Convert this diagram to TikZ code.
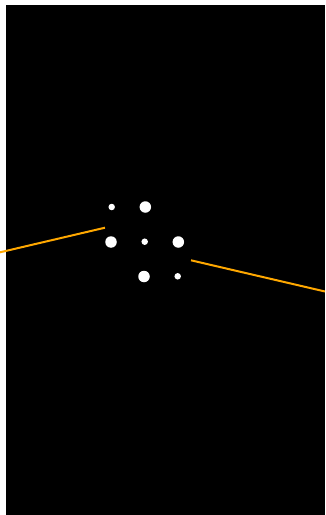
\documentclass[tikz,border=0pt]{standalone}
\usepackage{xcolor}
\definecolor{ray}{HTML}{FFA800}
\begin{document}
\begin{tikzpicture}[x=1bp,y=-1bp,
  bigdot/.style={circle,fill=white,draw=none,inner sep=0pt,minimum size=11.5bp},
  smalldot/.style={circle,fill=white,draw=none,inner sep=0pt,minimum size=6.5bp},
  rayline/.style={draw=ray,line width=2bp}]
\useasboundingbox (0,0) rectangle (325,515);
\fill[white] (0,0) rectangle (325,515);
\fill[black] (6,5) rectangle (325,515);
\node[smalldot] (d1) at (111.7,207) {};
\node[bigdot]   (d2) at (145.3,207) {};
\node[bigdot]   (d3) at (111,242) {};
\node[smalldot] (d4) at (144.7,241.7) {};
\node[bigdot]   (d5) at (178.3,242) {};
\node[bigdot]   (d6) at (144,276.5) {};
\node[smalldot] (d7) at (177.7,276.3) {};
\coordinate (l0) at (0,252.3);
\coordinate (l1) at (105,227.7);
\coordinate (r0) at (191,260.3);
\coordinate (r1) at (325,291.5);
\draw[rayline] (l0) -- (l1);
\draw[rayline] (r0) -- (r1);
\end{tikzpicture}
\end{document}
